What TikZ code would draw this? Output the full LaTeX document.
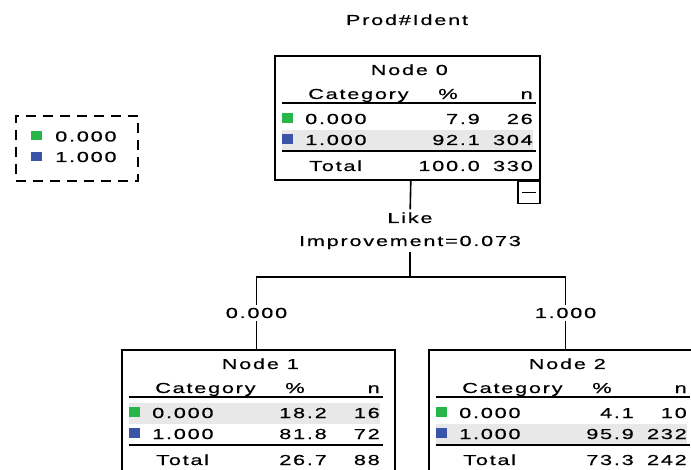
\documentclass[tikz,border=0pt]{standalone}
\usepackage{fontspec}
\usepackage{xcolor}
\usetikzlibrary{positioning,calc}

\newfontfamily\spssfont[FakeStretch=1.5,LetterSpace=12,FakeBold=0.4]{Liberation Sans}

\definecolor{catgreen}{RGB}{40,182,72}
\definecolor{catblue}{RGB}{58,84,168}
\definecolor{rowgray}{RGB}{232,232,232}

\tikzset{
  celltext/.style={font=\spssfont\fontsize{14.5}{23}\selectfont, inner sep=0pt},
  labeltext/.style={font=\spssfont\fontsize{14.5}{23}\selectfont, inner sep=3pt},
  treebox/.style={draw, rectangle, line width=1.6pt, inner sep=0pt, anchor=north west, minimum height=124pt},
  tablerule/.style={line width=1.5pt},
  link/.style={line width=1.6pt},
}

% contents of one tree node: box, label, highlighted row, pct/n of rows and total
\newcommand{\spsstable}[9]{
  \fill[rowgray] ($(#1.north west)+(8,{33+21*#3})$) rectangle ++(251,20.5);
  \node[celltext, anchor=base] (#1-title) at ($(#1.north)+(2,20)$) {#2};
  \node[celltext, anchor=base west] (#1-cat) at ($(#1.north west)+(34,44)$) {Category};
  \node[celltext, anchor=base] (#1-pct) at ($(#1.north west)+(174,44)$) {\%};
  \node[celltext, anchor=base east] (#1-n) at ($(#1.north west)+(259,44)$) {n};
  \draw[tablerule] ($(#1.north west)+(8,48)$) -- ++(254,0);
  \fill[catgreen] ($(#1.north west)+(8,58)$) rectangle ++(11,10);
  \node[celltext, anchor=base west] (#1-c0) at ($(#1.north west)+(31,69)$) {0.000};
  \node[celltext, anchor=base east] (#1-p0) at ($(#1.north west)+(206,69)$) {#4};
  \node[celltext, anchor=base east] (#1-k0) at ($(#1.north west)+(259,69)$) {#5};
  \fill[catblue] ($(#1.north west)+(8,79)$) rectangle ++(11,10);
  \node[celltext, anchor=base west] (#1-c1) at ($(#1.north west)+(31,90)$) {1.000};
  \node[celltext, anchor=base east] (#1-p1) at ($(#1.north west)+(206,90)$) {#6};
  \node[celltext, anchor=base east] (#1-k1) at ($(#1.north west)+(259,90)$) {#7};
  \draw[tablerule] ($(#1.north west)+(8,96)$) -- ++(254,0);
  \node[celltext, anchor=base west] (#1-tot) at ($(#1.north west)+(35,116)$) {Total};
  \node[celltext, anchor=base east] (#1-pt) at ($(#1.north west)+(206,116)$) {#8};
  \node[celltext, anchor=base east] (#1-kt) at ($(#1.north west)+(259,116)$) {#9};
}

\begin{document}
\begin{tikzpicture}[x=1pt, y=-1pt]
  \clip (0,0) rectangle (691,470);

  % target
  \node[celltext, anchor=base] (target) at (407,25) {Prod\#Ident};

  % legend
  \node[draw, dash pattern=on 10pt off 7pt, line width=1.6pt, minimum width=122pt, minimum height=65pt, inner sep=0pt, anchor=north west] (legend) at (15,115) {};
  \fill[catgreen] ($(legend.north west)+(16,16)$) rectangle ++(11,9);
  \node[celltext, anchor=base west] (legend-0) at ($(legend.north west)+(40,26.5)$) {0.000};
  \fill[catblue] ($(legend.north west)+(16,37)$) rectangle ++(11,9);
  \node[celltext, anchor=base west] (legend-1) at ($(legend.north west)+(40,47)$) {1.000};

  % Node 0
  \node[treebox, minimum width=265pt] (n0) at (274,55) {};
  \spsstable{n0}{Node 0}{2}{7.9}{26}{92.1}{304}{100.0}{330}
  \node[draw, line width=1.4pt, minimum width=22pt, minimum height=22pt, inner sep=0pt, anchor=north east] (n0-fold) at (n0.south east) {\rule{14pt}{1.4pt}};

  % split
  \node[labeltext, anchor=base] (split) at (410,223) {Like};
  \node[labeltext, anchor=base] (gain) at (410,246) {Improvement=0.073};
  \coordinate (fork) at (410,277);
  \draw[link] ([xshift=3.5pt]n0.south) -- (split);
  \draw[link] (gain) -- (fork);

  % branches
  \node[labeltext, anchor=base] (lab0) at (256.5,318) {0.000};
  \node[labeltext, anchor=base] (lab1) at (565.5,318) {1.000};
  \draw[link] (lab0) |- (fork) -| (lab1);

  % Node 1
  \node[treebox, minimum width=273pt] (n1) at (121,349) {};
  \spsstable{n1}{Node 1}{1}{18.2}{16}{81.8}{72}{26.7}{88}

  % Node 2
  \node[treebox, minimum width=273pt] (n2) at (428,349) {};
  \spsstable{n2}{Node 2}{2}{4.1}{10}{95.9}{232}{73.3}{242}

  \draw[link] (lab0) -- (lab0 |- n1.north);
  \draw[link] (lab1) -- (lab1 |- n2.north);
\end{tikzpicture}
\end{document}
